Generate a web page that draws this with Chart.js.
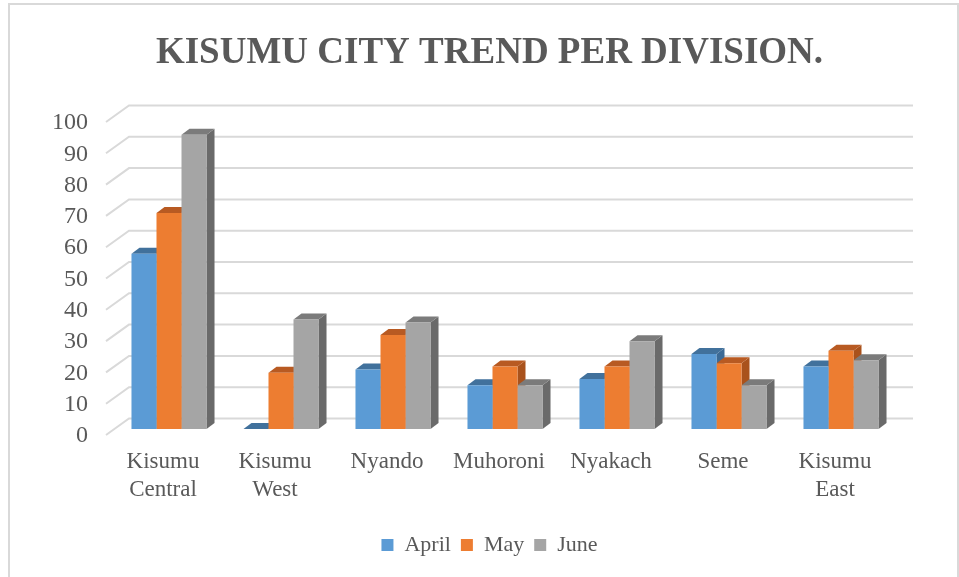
<!DOCTYPE html>
<html>
<head>
<meta charset="utf-8">
<script src="https://cdn.jsdelivr.net/npm/chart.js@4.4.0/dist/chart.umd.min.js"></script>
<style>
  body { margin: 0; background: #fff; }
  #wrap { position: relative; width: 959px; height: 577px; overflow: hidden; }
  #frame { position: absolute; left: 8px; top: 3px; width: 947px; height: 600px; border: 2px solid #d9d9d9; pointer-events: none; }
</style>
</head>
<body>
<div id="wrap">
  <canvas id="trendChart" width="959" height="577"></canvas>
  <div id="frame"></div>
</div>
<script>
// Chart values
const divisions = [['Kisumu', 'Central'], ['Kisumu', 'West'], 'Nyando', 'Muhoroni', 'Nyakach', 'Seme', ['Kisumu', 'East']];
const april = [56, 0, 19, 14, 16, 24, 20];
const may = [69, 18, 30, 20, 20, 21, 25];
const june = [94, 35, 34, 14, 28, 14, 22];
const yTicks = [0, 10, 20, 30, 40, 50, 60, 70, 80, 90, 100];

const textColor = '#595959';
const serif = "'Times New Roman', 'Liberation Serif', serif";

// front, top and side colours per series
const shades = [
    { front: '#5b9bd5', top: '#41719c', side: '#3b6a96' },
    { front: '#ed7d31', top: '#b85a22', side: '#a9521c' },
    { front: '#a5a5a5', top: '#7b7b7b', side: '#6a6a6a' }
];

const depthX = 8;   // bar depth offset
const depthY = 6;

// back wall gridlines + bar tops and sides (fronts are drawn by Chart.js)
const fake3d = {
    id: 'fake3d',
    beforeDatasetsDraw(chart) {
        const { ctx, chartArea } = chart;
        const yScale = chart.scales.y;
        ctx.save();
        ctx.strokeStyle = '#d9d9d9';
        ctx.lineWidth = 2;
        yTicks.forEach(v => {
            const y = yScale.getPixelForValue(v);
            ctx.beginPath();
            ctx.moveTo(chartArea.left - 7, y + 6);
            ctx.lineTo(chartArea.left + 16, y - 10.5);
            ctx.lineTo(chartArea.right + 16, y - 10.5);
            ctx.stroke();
        });
        chart.data.datasets.forEach((ds, i) => {
            const meta = chart.getDatasetMeta(i);
            meta.data.forEach(bar => {
                const l = bar.x - bar.width / 2;
                const r = bar.x + bar.width / 2;
                const t = bar.y;
                const b = bar.base;
                ctx.fillStyle = shades[i].side;
                ctx.beginPath();
                ctx.moveTo(r, t);
                ctx.lineTo(r + depthX, t - depthY);
                ctx.lineTo(r + depthX, b - depthY);
                ctx.lineTo(r, b);
                ctx.closePath();
                ctx.fill();
                ctx.fillStyle = shades[i].top;
                ctx.beginPath();
                ctx.moveTo(l, t);
                ctx.lineTo(l + depthX, t - depthY);
                ctx.lineTo(r + depthX, t - depthY);
                ctx.lineTo(r, t);
                ctx.closePath();
                ctx.fill();
            });
        });
        ctx.restore();
    }
};

const chartData = {
    labels: divisions,
    datasets: [
        { label: 'April', data: april, backgroundColor: shades[0].front },
        { label: 'May', data: may, backgroundColor: shades[1].front },
        { label: 'June', data: june, backgroundColor: shades[2].front }
    ]
};

const config = {
    type: 'bar',
    data: chartData,
    options: {
        responsive: false,
        animation: false,
        categoryPercentage: 0.67,
        barPercentage: 1.0,
        layout: { padding: { left: 20, right: 0, top: 0, bottom: 11 } },
        plugins: {
            title: {
                display: true,
                text: 'KISUMU CITY TREND PER DIVISION.',
                color: textColor,
                font: { family: serif, size: 37, weight: 'bold', lineHeight: 1.2 },
                padding: { top: 31, bottom: 40.6 }
            },
            legend: {
                position: 'bottom',
                labels: {
                    color: textColor,
                    font: { family: serif, size: 22 },
                    boxWidth: 12,
                    boxHeight: 12,
                    padding: 10
                }
            },
            tooltip: { enabled: false }
        },
        scales: {
            x: {
                grid: { display: false },
                border: { display: false },
                ticks: {
                    color: textColor,
                    font: { family: serif, size: 23, lineHeight: 1.22 },
                    maxRotation: 0,
                    autoSkip: false,
                    padding: 11,
                    labelOffset: -6
                },
                afterFit(scale) { scale.height = 95; }
            },
            y: {
                min: 0,
                max: 100,
                grid: { display: false },
                border: { display: false },
                ticks: {
                    stepSize: 10,
                    autoSkip: false,
                    color: textColor,
                    font: { family: serif, size: 24 },
                    padding: 17,
                    labelOffset: 7
                },
                afterFit(scale) { scale.width = 93; }
            },
            // empty right-hand axis only reserves the gap right of the plot
            spacer: {
                type: 'linear',
                position: 'right',
                grid: { display: false },
                border: { display: false },
                ticks: { display: false },
                afterFit(scale) { scale.width = 62; }
            }
        }
    },
    plugins: [fake3d]
};

window.onload = () => {
    const ctx = document.getElementById('trendChart').getContext('2d');
    new Chart(ctx, config);
};
</script>
</body>
</html>
